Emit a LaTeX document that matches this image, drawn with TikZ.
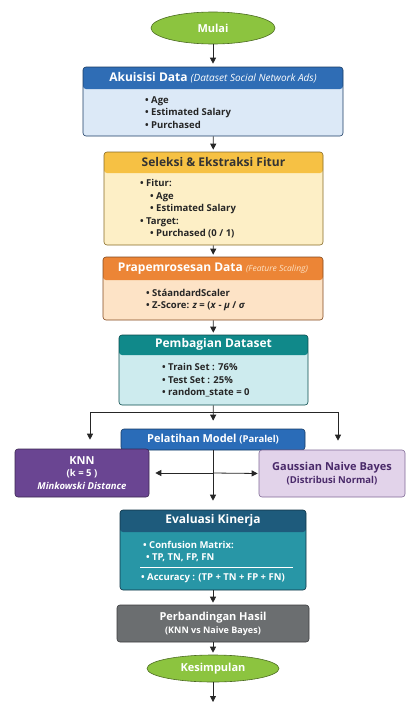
\documentclass[tikz,border=0pt]{standalone}
\usepackage{fontspec}
\setmainfont{Open Sans}
\usetikzlibrary{arrows.meta,shapes.geometric,positioning}

\definecolor{startgreen}{HTML}{8CC43F}
\definecolor{acqhead}{HTML}{2F6DB5}
\definecolor{acqbody}{HTML}{DCE9F7}
\definecolor{selhead}{HTML}{F6C144}
\definecolor{selbody}{HTML}{FDEFC6}
\definecolor{prehead}{HTML}{EC8536}
\definecolor{prebody}{HTML}{FDE3C6}
\definecolor{splithead}{HTML}{10898A}
\definecolor{splitbody}{HTML}{CDEBEE}
\definecolor{trainblue}{HTML}{2A6CB8}
\definecolor{knnpurple}{HTML}{6A4592}
\definecolor{gnblav}{HTML}{E2D3EA}
\definecolor{gnbtext}{HTML}{4A2A6A}
\definecolor{evalhead}{HTML}{1E5B7C}
\definecolor{evalbody}{HTML}{2896A6}
\definecolor{compgray}{HTML}{6B6E70}

\newcommand{\itm}{\textbullet\ }

\begin{document}
\begin{tikzpicture}[
  x=1pt, y=-1pt,
  arr/.style={-{Triangle[length=6pt,width=6pt]}, line width=0.8pt, draw=black!85},
  terminal/.style={ellipse, draw=startgreen!55!black, fill=startgreen, line width=0.6pt,
    inner sep=0pt, text=white, font=\bfseries\fontsize{11}{13}\selectfont},
  card/.style n args={3}{draw=#1!55!black, line width=0.6pt, rounded corners=3pt, fill=#2,
    inner sep=0pt,
    path picture={\fill[#1] (path picture bounding box.north west)
      rectangle ([yshift=-#3]path picture bounding box.north east);}},
  flat/.style={draw=#1!55!black, line width=0.6pt, rounded corners=3pt, fill=#1, inner sep=0pt},
  headtxt/.style={text=white, inner sep=0pt, font=\bfseries\fontsize{12}{14}\selectfont},
  bodytxt/.style={align=left, anchor=west, inner sep=0pt, text=black!85,
    font=\bfseries\fontsize{9.5}{12.5}\selectfont},
]
  \useasboundingbox (0,0) rectangle (406,704);

  % start
  \node[terminal, minimum width=124pt, minimum height=32pt] (mulai) at (213,28) {Mulai};

  % data acquisition
  \node[card={acqhead}{acqbody}{22pt}, minimum width=260pt, minimum height=69pt] (acq) at (213,101.5) {};
  \node[headtxt] (acqtitle) at ([yshift=-11pt]acq.north)
    {Akuisisi Data \mdseries\itshape\fontsize{10}{12}\selectfont(Dataset Social Network Ads)};
  \node[bodytxt] (acqlist) at (145,112.5) {\itm Age\\ \itm Estimated Salary\\ \itm Purchased};

  % feature selection
  \node[card={selhead}{selbody}{21pt}, minimum width=219pt, minimum height=93pt] (sel) at (213.5,198.5) {};
  \node[headtxt, text=black!80] (seltitle) at ([yshift=-10.5pt]sel.north) {Seleksi \& Ekstraksi Fitur};
  \node[bodytxt] (sellist) at (140,209) {\itm Fitur:\\ \hspace{10pt}\itm Age\\ \hspace{10pt}\itm Estimated Salary\\
    \itm Target:\\ \hspace{10pt}\itm Purchased (0 / 1)};

  % preprocessing
  \node[card={prehead}{prebody}{23pt}, minimum width=220pt, minimum height=63pt] (pre) at (213,288.5) {};
  \node[headtxt] (pretitle) at ([yshift=-11.5pt]pre.north)
    {Prapemrosesan Data \mdseries\itshape\fontsize{8.5}{10}\selectfont\color{prebody}(Feature Scaling)};
  \node[bodytxt] (prelist) at (146,300) {\itm StáandardScaler\\
    \itm Z-Score: \textit{z} = (\textit{x} - \textit{μ} / \textit{σ}};

  % split
  \node[card={splithead}{splitbody}{20pt}, minimum width=189pt, minimum height=70pt] (split) at (213.5,370) {};
  \node[headtxt] (splittitle) at ([yshift=-10pt]split.north) {Pembagian Dataset};
  \node[bodytxt] (splitlist) at (162,380.5) {\itm Train Set : 76\%\\ \itm Test Set : 25\%\\ \itm random\_state = 0};

  % training
  \node[flat=trainblue, minimum width=184pt, minimum height=21pt, headtxt, font=\bfseries\fontsize{11}{12}\selectfont] (train) at (213,439.5)
    {Pelatihan Model {\fontsize{9.5}{11}\selectfont(Paralel)}};
  \node[flat=knnpurple, minimum width=134pt, minimum height=48pt, align=center, text=white,
    font=\bfseries\fontsize{9.5}{12.5}\selectfont] (knn) at (82,473)
    {{\fontsize{11}{13}\selectfont KNN}\\(k = 5 )\\\itshape Minkowski Distance};
  \node[flat=gnblav, draw=gnbtext!70, minimum width=146pt, minimum height=47pt, align=center, text=gnbtext,
    font=\bfseries\fontsize{9.5}{13}\selectfont] (gnb) at (332,473.5)
    {{\fontsize{11}{13}\selectfont Gaussian Naive Bayes}\\(Distribusi Normal)};

  % evaluation
  \node[card={evalhead}{evalbody}{22pt}, minimum width=186pt, minimum height=80pt] (eval) at (213,550) {};
  \node[headtxt] (evaltitle) at ([yshift=-11pt]eval.north) {Evaluasi Kinerja};
  \node[bodytxt, text=white] (evallist) at (143,551.5) {\itm Confusion Matrix:\\ \hspace{3pt}\itm TP, TN, FP, FN};
  \draw[white, line width=0.6pt] (140,567) -- (293,567);
  \node[bodytxt, text=white] (evalacc) at (141,578) {\itm Accuracy : (TP + TN + FP + FN)};

  % comparison and end
  \node[flat=compgray, minimum width=192pt, minimum height=37pt, align=center, text=white,
    font=\bfseries\fontsize{9}{13}\selectfont] (comp) at (213,623.5)
    {{\fontsize{11}{13}\selectfont Perbandingan Hasil}\\(KNN vs Naive Bayes)};
  \node[terminal, minimum width=132pt, minimum height=27pt] (kes) at (213,668.5) {Kesimpulan};

  % connectors
  \draw[arr, shorten >=3pt] (mulai) -- (acq);
  \draw[arr, shorten >=2pt] (acq) -- (sel);
  \draw[arr, shorten >=2pt] (sel) -- (pre);
  \draw[arr, shorten >=2pt] (pre) -- (split);
  \draw[arr, shorten >=8pt] (split) -- (train);
  \coordinate (forkL) at (90,412);
  \coordinate (forkR) at (338,412);
  \draw[line width=0.8pt, black!85] (forkL) -- (forkR);
  \draw[arr, shorten >=9pt] (forkL) -- (forkL |- knn.north);
  \draw[arr, shorten >=9pt] (forkR) -- (forkR |- gnb.north);
  \draw[arr, shorten >=9pt] (train) -- (eval);
  \coordinate (mid) at (train.south |- knn.east);
  \draw[arr, shorten >=6pt] (mid) -- (knn.east);
  \draw[arr, shorten >=1pt] (mid) -- (gnb.west);
  \draw[arr, shorten >=2pt] (eval) -- (comp);
  \draw[arr, shorten >=2pt] (comp) -- (kes);
  \coordinate (out) at (213,704);
  \draw[arr, shorten >=2pt] (kes) -- (out);
\end{tikzpicture}
\end{document}
